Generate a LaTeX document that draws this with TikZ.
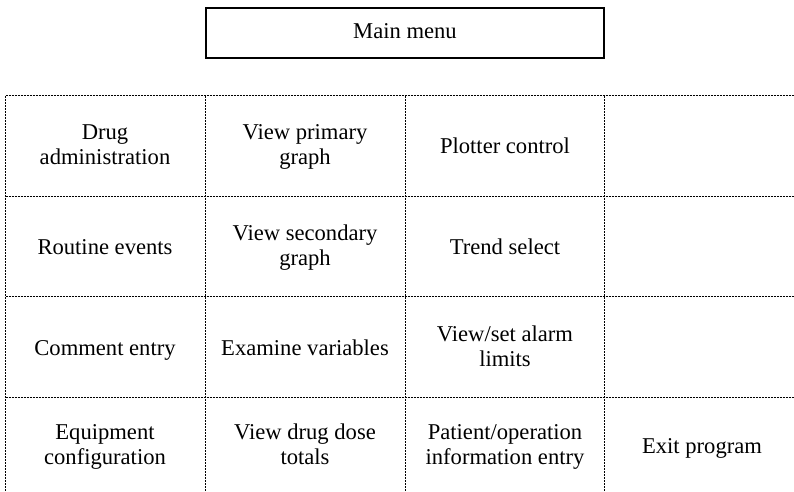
\documentclass[tikz,border=0pt]{standalone}
\usepackage{fontspec}
\setmainfont{Liberation Serif}

\begin{document}
\begin{tikzpicture}[x=0.5pt, y=-0.5pt,
    grid/.style={line width=0.5pt, dash pattern=on 1pt off 0.5pt},
    cell/.style={align=center, font=\fontsize{11.3}{12.6}\selectfont,
        execute at begin node=\strut, execute at end node=\strut}]
    \useasboundingbox (0,0) rectangle (794,492);
    % top box
    \node[draw, line width=0.7pt, minimum width=199pt, minimum height=25pt, cell] (main) at (405,33) {Main menu};
    % dotted grid, open at the right and bottom
    \foreach \y in {96,197,297,398}
        \draw[grid] (5.5,\y) -- (794,\y);
    \foreach \x in {5.5,205,405,604}
        \draw[grid] (\x,96) -- (\x,492);
    % menu entries
    \node[cell] (drug) at (105,148) {Drug\\administration};
    \node[cell] (primary) at (305,148) {View primary\\graph};
    \node[cell] (plotter) at (505,148) {Plotter control};
    \node[cell] (routine) at (105,249) {Routine events};
    \node[cell] (secondary) at (305,249) {View secondary\\graph};
    \node[cell] (trend) at (505,249) {Trend select};
    \node[cell] (comment) at (105,350) {Comment entry};
    \node[cell] (examine) at (305,350) {Examine variables};
    \node[cell] (alarm) at (505,350) {View/set alarm\\limits};
    \node[cell] (equip) at (105,448) {Equipment\\configuration};
    \node[cell] (dose) at (305,448) {View drug dose\\totals};
    \node[cell] (patient) at (505,448) {Patient/operation\\information entry};
    \node[cell] (exit) at (702,448) {Exit program};
\end{tikzpicture}
\end{document}
